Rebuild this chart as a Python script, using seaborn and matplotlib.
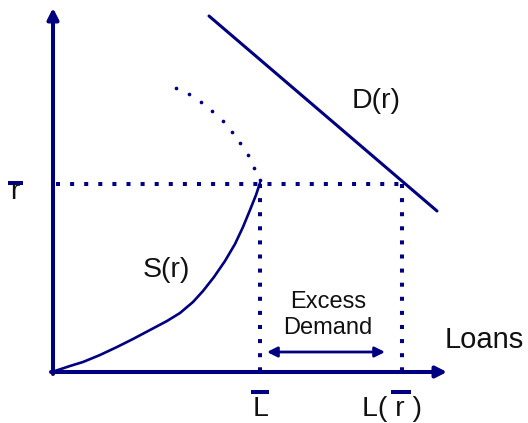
import matplotlib
matplotlib.use("Agg")
import matplotlib.pyplot as plt
import seaborn as sns
import numpy as np
import pandas as pd

# ---- data (diagram units: origin at axes origin) ----
r_bar = 188          # interest-rate ceiling
L_bar = 207          # loans supplied at r_bar
L_rbar = 349         # loans demanded at r_bar
s_x = [2, 17, 30, 47, 64, 80, 97, 114, 127, 140, 150, 161, 172, 182, 190, 197, 203, 207]
s_y = [1, 6, 10, 17, 25, 33, 42, 51, 59, 70, 81, 95, 111, 128, 145, 162, 177, 189]
s_ext_x = [123, 136, 148, 159, 170, 179, 187, 195, 201, 207]
s_ext_y = [284, 278, 270, 261, 251, 240, 229, 217, 204, 192]
d_x = [156, 384]
d_y = [356, 161]
labels = {"S": "S(r)", "D": "D(r)", "loans": "Loans", "excess": "Excess\nDemand",
          "rbar": "r", "Lbar": "L", "Lr": "L( r )"}

navy = "#000080"

sns.set_theme(style="white")
plt.rcParams["font.family"] = ["Liberation Sans", "DejaVu Sans"]

fig = plt.figure(figsize=(5.28, 4.23), dpi=100)
ax = fig.add_axes([0, 0, 1, 1])

# axes with arrows
ax.annotate("", xy=(0, 364), xytext=(0, -2),
            arrowprops=dict(arrowstyle="-|>,head_length=0.65,head_width=0.33", lw=2.9,
                            color=navy, shrinkA=0, shrinkB=0, mutation_scale=10))
ax.annotate("", xy=(394, 0), xytext=(-2, 0),
            arrowprops=dict(arrowstyle="-|>,head_length=0.65,head_width=0.33", lw=2.9,
                            color=navy, shrinkA=0, shrinkB=0, mutation_scale=10))

# dotted guide lines
dot = (0, (1, 2.5))
ax.plot([3, L_rbar], [r_bar, r_bar], color=navy, lw=2.9, linestyle=dot, dash_capstyle="butt")
ax.plot([L_bar, L_bar], [r_bar, 0], color=navy, lw=2.9, linestyle=dot, dash_capstyle="butt")
ax.plot([L_rbar, L_rbar], [r_bar, 0], color=navy, lw=2.9, linestyle=dot, dash_capstyle="butt")

# supply curve
sdf = pd.DataFrame({"x": s_x, "y": s_y})
sns.lineplot(data=sdf, x="x", y="y", ax=ax, color=navy, lw=1.9, sort=False, estimator=None,
             solid_joinstyle="round")
edf = pd.DataFrame({"x": s_ext_x, "y": s_ext_y})
sns.scatterplot(data=edf, x="x", y="y", ax=ax, color=navy, s=7, linewidth=0)

# demand curve
ddf = pd.DataFrame({"x": d_x, "y": d_y})
sns.lineplot(data=ddf, x="x", y="y", ax=ax, color=navy, lw=2.2, sort=False, estimator=None)

ax.set_xlim(-53, 475)
ax.set_ylim(-51, 372)
ax.axis("off")

# excess demand arrow
ax.annotate("", xy=(L_rbar - 17, 20), xytext=(L_bar + 7, 20),
            arrowprops=dict(arrowstyle="<|-|>,head_length=0.6,head_width=0.3", lw=2.0,
                            color=navy, shrinkA=0, shrinkB=0, mutation_scale=10))

tc = "#111111"
ax.text(113, 102, labels["S"], fontsize=20.5, ha="center", va="center", color=tc)
ax.text(323, 271, labels["D"], fontsize=20.5, ha="center", va="center", color=tc)
ax.text(431, 32, labels["loans"], fontsize=21, ha="center", va="center", color=tc)
ax.text(275, 57, labels["excess"], fontsize=17, ha="center", va="center", color=tc,
        linespacing=1.2)

# r-bar label
ax.text(-38.5, r_bar - 8, labels["rbar"], fontsize=20.5, ha="center", va="center", color=tc)
ax.plot([-45, -30], [r_bar + 1, r_bar + 1], color=navy, lw=2.9, solid_capstyle="butt")
# L-bar label
ax.text(L_bar + 1, -37, labels["Lbar"], fontsize=20.5, ha="center", va="center", color=tc)
ax.plot([L_bar - 9, L_bar + 9], [-20, -20], color=navy, lw=2.9, solid_capstyle="butt")
# L(r-bar) label
ax.text(L_rbar - 10, -37, labels["Lr"], fontsize=20.5, ha="center", va="center", color=tc)
ax.plot([L_rbar - 11, L_rbar + 9], [-20, -20], color=navy, lw=2.9, solid_capstyle="butt")

fig.savefig("out.png", dpi=100)
